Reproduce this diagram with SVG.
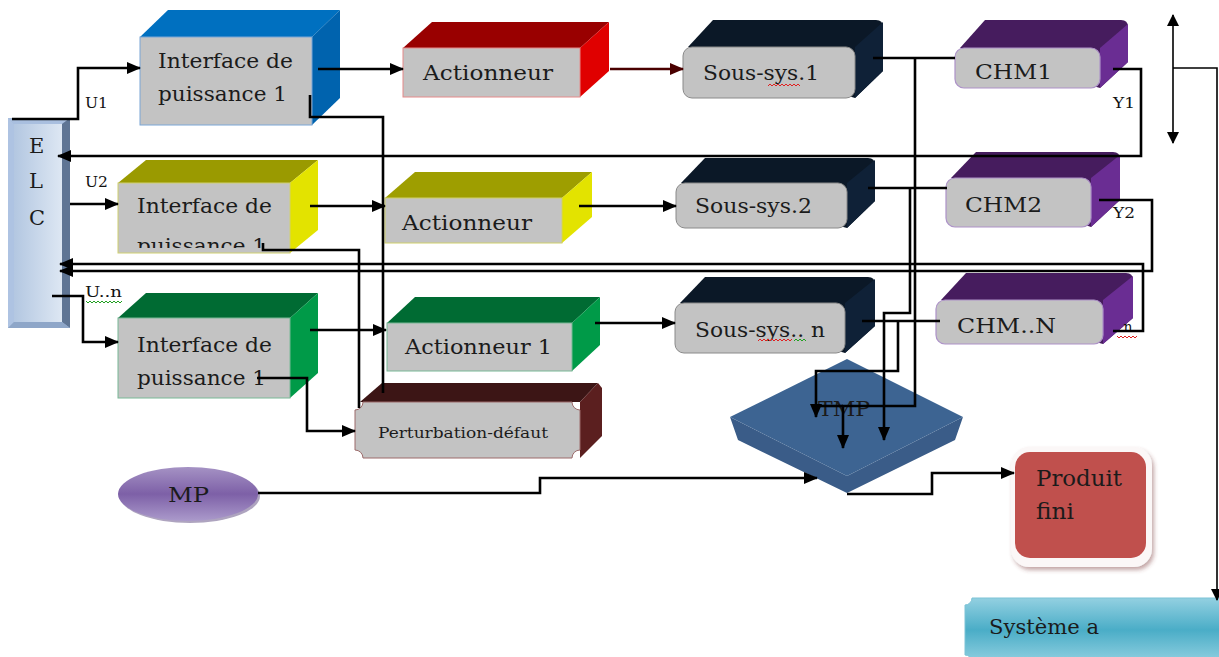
<svg xmlns="http://www.w3.org/2000/svg" width="1219" height="657" viewBox="0 0 1219 657">
  <defs>
    <style>
      .lbl { font-family: "DejaVu Serif", "Liberation Serif", serif; fill: #1b1b1b; }
      .big { font-size: 21px; }
      .small { font-size: 14px; fill: #111; }
      .front { fill: #c3c3c3; }
      .wire { fill: none; stroke: #000; stroke-width: 2.6; stroke-linejoin: miter; }
      .thin { fill: none; stroke: #000; stroke-width: 1.6; }
      .squig { fill: none; stroke-width: 1; }
    </style>
    <marker id="arr" markerUnits="userSpaceOnUse" markerWidth="14" markerHeight="12" refX="13" refY="6" orient="auto-start-reverse">
      <path d="M0,0 L14,6 L0,12 Z" fill="#000"/>
    </marker>
    <marker id="arrRed" markerUnits="userSpaceOnUse" markerWidth="14" markerHeight="12" refX="13" refY="6" orient="auto">
      <path d="M0,0 L14,6 L0,12 Z" fill="#4a0000"/>
    </marker>
    <marker id="arrSm" markerUnits="userSpaceOnUse" markerWidth="12" markerHeight="12" refX="11" refY="6" orient="auto-start-reverse">
      <path d="M0,0 L12,6 L0,12 Z" fill="#000"/>
    </marker>
    <linearGradient id="elcFace" x1="0" y1="0" x2="1" y2="0">
      <stop offset="0" stop-color="#b3c7e1"/>
      <stop offset="1" stop-color="#dde7f3"/>
    </linearGradient>
    <linearGradient id="mpFill" x1="0" y1="0" x2="0" y2="1">
      <stop offset="0" stop-color="#a592c4"/>
      <stop offset="0.5" stop-color="#7d60a7"/>
      <stop offset="1" stop-color="#ab9acb"/>
    </linearGradient>
    <linearGradient id="sysFill" x1="0" y1="0" x2="0" y2="1">
      <stop offset="0" stop-color="#93d0e1"/>
      <stop offset="0.5" stop-color="#4aadc7"/>
      <stop offset="1" stop-color="#8fcfe0"/>
    </linearGradient>
    <filter id="shadow" x="-10%" y="-10%" width="125%" height="125%">
      <feDropShadow dx="2" dy="3" stdDeviation="2" flood-color="#7a3a3a" flood-opacity="0.45"/>
    </filter>
    <clipPath id="clipI2">
      <rect x="118" y="183" width="172" height="65"/>
    </clipPath>
  </defs>

  <rect width="1219" height="657" fill="#fff"/>

  <!-- ELC controller bar -->
  <g id="elc">
    <rect x="8" y="118" width="62" height="210" fill="#9fb6d8"/>
    <polygon points="8,118 70,118 62,124 14,124" fill="#a9bfdf"/>
    <polygon points="8,118 14,124 14,322 8,328" fill="#aec3e2"/>
    <polygon points="70,118 70,328 62,322 62,124" fill="#5f7594"/>
    <polygon points="8,328 70,328 62,322 14,322" fill="#8ea6c8"/>
    <rect x="14" y="124" width="48" height="198" fill="url(#elcFace)"/>
    <text class="lbl big" x="29" y="153">E</text>
    <text class="lbl big" x="29" y="188">L</text>
    <text class="lbl big" x="29" y="225">C</text>
  </g>

  <!-- Power interfaces -->
  <g id="interface1">
    <polygon points="140,37 168,10 340,10 312,37" fill="#0070c0"/>
    <polygon points="312,37 340,10 340,98 312,125" fill="#0063ae"/>
    <rect class="front" x="140" y="37" width="172" height="88" stroke="#7aa6d6" stroke-width="1"/>
    <text class="lbl big" x="158" y="68" textLength="135" lengthAdjust="spacingAndGlyphs">Interface de</text>
    <text class="lbl big" x="158" y="101" textLength="129" lengthAdjust="spacingAndGlyphs">puissance 1</text>
  </g>

  <g id="interface2">
    <polygon points="118,183 146,160 318,160 290,183" fill="#9a9a00"/>
    <polygon points="290,183 318,160 318,230 290,253" fill="#e3e300"/>
    <rect class="front" x="118" y="183" width="172" height="70" stroke="#d0d070" stroke-width="1"/>
    <g clip-path="url(#clipI2)">
      <text class="lbl big" x="137" y="213" textLength="135" lengthAdjust="spacingAndGlyphs">Interface de</text>
      <text class="lbl big" x="137" y="253" textLength="129" lengthAdjust="spacingAndGlyphs">puissance 1</text>
    </g>
  </g>

  <g id="interface3">
    <polygon points="118,318 146,293 318,293 290,318" fill="#006b33"/>
    <polygon points="290,318 318,293 318,373 290,398" fill="#009a48"/>
    <rect class="front" x="118" y="318" width="172" height="80" stroke="#78b896" stroke-width="1"/>
    <text class="lbl big" x="137" y="352" textLength="135" lengthAdjust="spacingAndGlyphs">Interface de</text>
    <text class="lbl big" x="137" y="385" textLength="129" lengthAdjust="spacingAndGlyphs">puissance 1</text>
  </g>

  <!-- Actuators -->
  <g id="actionneur1">
    <polygon points="403,48 432,22 609,22 580,48" fill="#990000"/>
    <polygon points="580,48 609,22 609,71 580,97" fill="#e00000"/>
    <rect class="front" x="403" y="48" width="177" height="49" stroke="#e58a8a" stroke-width="1"/>
    <text class="lbl big" x="423" y="80" textLength="130" lengthAdjust="spacingAndGlyphs">Actionneur</text>
  </g>

  <g id="actionneur2">
    <polygon points="385,198 415,172 592,172 562,198" fill="#9e9e00"/>
    <polygon points="562,198 592,172 592,217 562,243" fill="#e3e300"/>
    <rect class="front" x="385" y="198" width="177" height="45" stroke="#cfcf6a" stroke-width="1"/>
    <text class="lbl big" x="402" y="230" textLength="130" lengthAdjust="spacingAndGlyphs">Actionneur</text>
  </g>

  <g id="actionneur3">
    <polygon points="387,323 415,297 600,297 572,323" fill="#006b33"/>
    <polygon points="572,323 600,297 600,345 572,371" fill="#009a48"/>
    <rect class="front" x="387" y="323" width="185" height="48" stroke="#78b896" stroke-width="1"/>
    <text class="lbl big" x="405" y="354" textLength="147" lengthAdjust="spacingAndGlyphs">Actionneur 1</text>
  </g>

  <!-- Disturbance block -->
  <g id="perturbation">
    <polygon points="360,402 382,383 598,383 580,402" fill="#3c1515"/>
    <polygon points="580,402 598,383 602,388 602,436 580,458" fill="#5b1f1f"/>
    <path d="M363,402 H572 A8,8 0 0 0 580,410 V450 A8,8 0 0 0 572,458 H363 A8,8 0 0 0 355,450 V410 A8,8 0 0 0 363,402 Z" fill="#c3c3c3" stroke="#9c6b6b" stroke-width="1"/>
    <text class="lbl" x="378" y="438" font-size="15" textLength="170" lengthAdjust="spacingAndGlyphs">Perturbation-défaut</text>
  </g>

  <!-- Sub-systems -->
  <g id="soussys1">
    <path d="M688,47 L713,20 H876 Q883,20 883,27 V71 L855,98 Z" fill="#0b1827"/>
    <polygon points="855,47 883,22 883,71 855,98" fill="#0f2137"/>
    <rect class="front" x="683" y="47" width="172" height="51" rx="9" stroke="#8a8a8a" stroke-width="1"/>
    <text class="lbl big" x="703" y="80" textLength="116" lengthAdjust="spacingAndGlyphs">Sous-sys.1</text>
    <path class="squig" stroke="#e02020" d="M768,86 l2,-2 l2,2 l2,-2 l2,2 l2,-2 l2,2 l2,-2 l2,2 l2,-2 l2,2 l2,-2 l2,2 l2,-2 l2,2 l2,-2 l2,2"/>
  </g>

  <g id="soussys2">
    <path d="M681,183 L705,158 H868 Q875,158 875,165 V201 L847,228 Z" fill="#0b1827"/>
    <polygon points="847,183 875,160 875,201 847,228" fill="#0f2137"/>
    <rect class="front" x="676" y="183" width="171" height="45" rx="9" stroke="#8a8a8a" stroke-width="1"/>
    <text class="lbl big" x="695" y="213" textLength="117" lengthAdjust="spacingAndGlyphs">Sous-sys.2</text>
  </g>

  <g id="soussysn">
    <path d="M680,303 L705,277 H868 Q875,277 875,284 V326 L845,353 Z" fill="#0b1827"/>
    <polygon points="845,303 875,279 875,326 845,353" fill="#0f2137"/>
    <rect class="front" x="675" y="303" width="170" height="50" rx="9" stroke="#8a8a8a" stroke-width="1"/>
    <text class="lbl big" x="695" y="337" textLength="130" lengthAdjust="spacingAndGlyphs">Sous-sys.. n</text>
    <path class="squig" stroke="#e02020" d="M758,341 l2,-2 l2,2 l2,-2 l2,2 l2,-2 l2,2 l2,-2 l2,2 l2,-2 l2,2 l2,-2 l2,2 l2,-2 l2,2 l2,-2 l2,2 l2,-2"/>
    <path class="squig" stroke="#20a020" d="M794,341 l2,-2 l2,2 l2,-2 l2,2 l2,-2 l2,2"/>
  </g>

  <!-- Measurement chains -->
  <g id="chm1">
    <path d="M960,48 L985,20 H1121 Q1128,20 1128,27 V62 L1100,88 Z" fill="#461c5e"/>
    <polygon points="1100,48 1128,24 1128,62 1100,88" fill="#6a2d93"/>
    <rect class="front" x="955" y="48" width="145" height="40" rx="9" stroke="#ad92c8" stroke-width="1.2"/>
    <text class="lbl big" x="975" y="79" textLength="77" lengthAdjust="spacingAndGlyphs">CHM1</text>
  </g>

  <g id="chm2">
    <path d="M951,178 L976,152 H1113 Q1120,152 1120,159 V200 L1091,227 Z" fill="#461c5e"/>
    <polygon points="1091,178 1120,155 1120,200 1091,227" fill="#6a2d93"/>
    <rect class="front" x="946" y="178" width="145" height="49" rx="9" stroke="#ad92c8" stroke-width="1.2"/>
    <text class="lbl big" x="965" y="212" textLength="77" lengthAdjust="spacingAndGlyphs">CHM2</text>
  </g>

  <g id="chmn">
    <path d="M941,300 L966,273 H1126 Q1133,273 1133,280 V318 L1103,344 Z" fill="#461c5e"/>
    <polygon points="1103,300 1133,276 1133,318 1103,344" fill="#6a2d93"/>
    <rect class="front" x="936" y="300" width="167" height="44" rx="9" stroke="#ad92c8" stroke-width="1.2"/>
    <text class="lbl big" x="957" y="333" textLength="99" lengthAdjust="spacingAndGlyphs">CHM..N</text>
  </g>

  <!-- Processing stage -->
  <g id="tmp">
    <polygon points="730,417 847,476 963,417 955,440 847,493 738,440" fill="#3a5c88"/>
    <polygon points="847,359 963,417 847,476 730,417" fill="#3d6492"/>
    <text class="lbl" x="818" y="416" font-size="20" fill="#111" textLength="52" lengthAdjust="spacingAndGlyphs">TMP</text>
  </g>

  <!-- Raw material -->
  <g id="mp">
    <ellipse cx="190" cy="496" rx="70" ry="27" fill="#5e4a80" opacity="0.5"/>
    <ellipse cx="188" cy="494" rx="70" ry="27" fill="url(#mpFill)"/>
    <text class="lbl" x="168" y="502" font-size="20" textLength="41" lengthAdjust="spacingAndGlyphs">MP</text>
  </g>

  <!-- Finished product -->
  <g id="produit">
    <rect x="1011" y="447" width="141" height="120" rx="18" fill="#fbf7f7" filter="url(#shadow)"/>
    <rect x="1015" y="452" width="131" height="106" rx="15" fill="#c0504d"/>
    <text class="lbl" x="1036" y="486" font-size="22" textLength="86" lengthAdjust="spacingAndGlyphs">Produit</text>
    <text class="lbl" x="1036" y="519" font-size="22" textLength="38" lengthAdjust="spacingAndGlyphs">fini</text>
  </g>

  <!-- System box -->
  <g id="systeme">
    <path d="M972,598 H1240 V662 H972 A7,7 0 0 0 965,655 V605 A7,7 0 0 0 972,598 Z" fill="url(#sysFill)" stroke="#7cc3d6" stroke-width="1"/>
    <text class="lbl" x="989" y="634" font-size="20" textLength="110" lengthAdjust="spacingAndGlyphs">Système a</text>
  </g>

  <!-- Signal labels -->
  <g id="labels">
    <text class="lbl small" x="85" y="108" textLength="23" lengthAdjust="spacingAndGlyphs">U1</text>
    <text class="lbl small" x="85" y="187" textLength="23" lengthAdjust="spacingAndGlyphs">U2</text>
    <text class="lbl small" x="85" y="297" textLength="37" lengthAdjust="spacingAndGlyphs">U..n</text>
    <path class="squig" stroke="#20a020" d="M86,301 l2,2 l2,-2 l2,2 l2,-2 l2,2 l2,-2 l2,2 l2,-2 l2,2 l2,-2 l2,2 l2,-2 l2,2 l2,-2 l2,2 l2,-2 l2,2 l2,-2"/>
    <text class="lbl small" x="1113" y="108" textLength="22" lengthAdjust="spacingAndGlyphs">Y1</text>
    <text class="lbl small" x="1113" y="218" textLength="22" lengthAdjust="spacingAndGlyphs">Y2</text>
    <text class="lbl small" x="1119" y="332">.n</text>
    <path class="squig" stroke="#e02020" d="M1117,336 l2,2 l2,-2 l2,2 l2,-2 l2,2 l2,-2 l2,2 l2,-2 l2,2 l2,-2"/>
  </g>

  <!-- Connectors -->
  <g id="connectors">
    <path class="wire" d="M12,119 H78 V68 H140" marker-end="url(#arr)"/>
    <path class="wire" d="M318,69 H403" marker-end="url(#arr)"/>
    <path d="M610,69 H683" fill="none" stroke="#4a0000" stroke-width="2.6" marker-end="url(#arrRed)"/>
    <path class="wire" d="M310,95 V117 H383 V393"/>
    <path class="wire" d="M1113,69 H1141 V156 H58" marker-end="url(#arr)"/>

    <path class="wire" d="M70,204 H118" marker-end="url(#arr)"/>
    <path class="wire" d="M310,206 H385" marker-end="url(#arr)"/>
    <path class="wire" d="M579,206 H676" marker-end="url(#arr)"/>
    <path class="wire" d="M263,243 V250 H359 V408"/>
    <path class="wire" d="M1099,200 H1152 V271 H60" marker-end="url(#arr)"/>
    <path class="wire" d="M1113,331 H1143 V264 H60" marker-end="url(#arr)"/>

    <path class="wire" d="M52,296 H83 V342 H118" marker-end="url(#arr)"/>
    <path class="wire" d="M310,330 H386" marker-end="url(#arr)"/>
    <path class="wire" d="M595,323 H675" marker-end="url(#arr)"/>
    <path class="wire" d="M257,378 H307 V431 H355" marker-end="url(#arr)"/>

    <path class="wire" d="M873,58 H955"/>
    <path class="wire" d="M915,58 V406 H843 V448" marker-end="url(#arr)"/>
    <path class="wire" d="M843,406 H817"/>
    <path class="wire" d="M868,188 H947"/>
    <path class="wire" d="M910,188 V313 H884 V440" marker-end="url(#arr)"/>
    <path class="wire" d="M862,321 H940"/>
    <path class="wire" d="M898,321 V371 H816 V417" marker-end="url(#arr)"/>

    <path class="wire" d="M258,493 H540 V478 H817" marker-end="url(#arr)"/>
    <path class="wire" d="M847,494 H932 V473 H1014" marker-end="url(#arr)"/>

    <path class="thin" stroke-width="2" d="M1173,15 V143" marker-start="url(#arrSm)" marker-end="url(#arrSm)"/>
    <path class="thin" d="M1173,68 H1217 V600" marker-end="url(#arrSm)"/>
  </g>
</svg>
